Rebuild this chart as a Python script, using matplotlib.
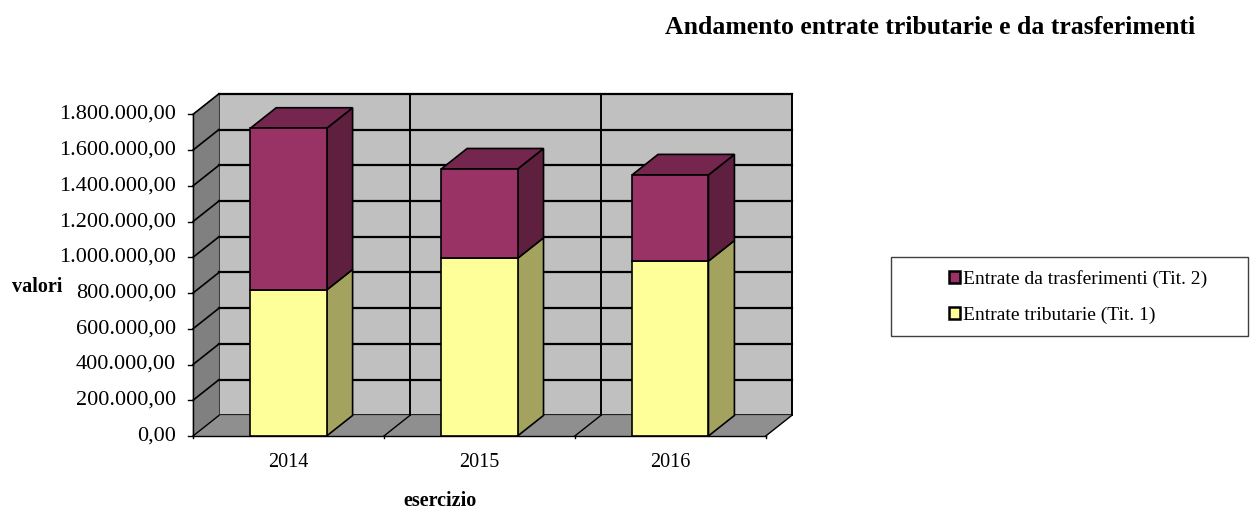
import matplotlib
matplotlib.use("Agg")
import matplotlib.pyplot as plt
from matplotlib.patches import Polygon, Rectangle
from matplotlib.ticker import FuncFormatter

plt.rcParams['font.family'] = ['Liberation Serif', 'DejaVu Serif']

# data
anni = ['2014', '2015', '2016']
tributarie = [817000, 994000, 979000]
trasferimenti = [905000, 500000, 482000]
serie = ['Entrate tributarie (Tit. 1)', 'Entrate da trasferimenti (Tit. 2)']

front_col = ['#FFFF99', '#993366']
side_col = ['#A3A35F', '#5F1F3F']
top_col = ['#B8B86C', '#74264F']

ymax = 1800000
step = 200000
dx = 0.136      # depth offset in category units
dy = 115000     # depth offset in value units
bw = 0.4

fig = plt.figure(figsize=(12.5, 5.12), dpi=100)
ax = fig.add_axes([193/1250, 76/512, (791.7-193)/1250, (436-93.8)/512])
n = len(anni)
ax.set_xlim(0, n + dx)
ax.set_ylim(0, ymax + dy)
ax.axis('off')

# back wall
ax.add_patch(Polygon([(dx, dy), (n+dx, dy), (n+dx, ymax+dy), (dx, ymax+dy)],
                     closed=True, fc='#C0C0C0', ec='black', lw=1.2, zorder=1))
# left wall
ax.add_patch(Polygon([(0, 0), (dx, dy), (dx, ymax+dy), (0, ymax)],
                     closed=True, fc='#808080', ec='#808080', lw=0.5, zorder=1, clip_on=False))
# floor
ax.add_patch(Polygon([(0, 0), (n, 0), (n+dx, dy), (dx, dy)],
                     closed=True, fc='#8F8F8F', ec='#8F8F8F', lw=0.5, zorder=1, clip_on=False))

# gridlines
v = step
while v <= ymax:
    ax.plot([dx, n+dx], [v+dy, v+dy], color='black', lw=1.6, zorder=2, clip_on=False)
    ax.plot([0, dx], [v, v+dy], color='black', lw=1.2, zorder=2, clip_on=False)
    v += step
for k in range(1, n + 1):
    ax.plot([k+dx, k+dx], [dy, ymax+dy], color='black', lw=1.4, zorder=2, clip_on=False)
    ax.plot([k, k+dx], [0, dy], color='black', lw=1.0, zorder=2, clip_on=False)
ax.plot([0, dx], [0, dy], color='black', lw=1.0, zorder=2, clip_on=False)

# axis lines + ticks
ax.plot([0, 0], [0, ymax], color='black', lw=1.0, zorder=3, clip_on=False)
ax.plot([0, n], [0, 0], color='black', lw=1.0, zorder=3, clip_on=False)
fmt = FuncFormatter(lambda x, p: '{:,.2f}'.format(x).replace(',', 'X').replace('.', ',').replace('X', '.'))
v = 0
while v <= ymax:
    ax.plot([-0.025, 0], [v, v], color='black', lw=1.0, clip_on=False)
    ax.text(-0.09, v, fmt(v), ha='right', va='center', fontsize=16)
    v += step
for k in range(n + 1):
    ax.plot([k, k], [0, -12000], color='black', lw=1.0, clip_on=False)
for i, a in enumerate(anni):
    ax.text(i + 0.5, -150000, a, ha='center', va='center', fontsize=14.5)

# stacked 3D bars
for i in range(n):
    x0 = i + 0.5 - bw/2
    x1 = i + 0.5 + bw/2
    base = 0
    for s, vals in enumerate([tributarie, trasferimenti]):
        h = vals[i]
        y0, y1 = base, base + h
        ax.add_patch(Rectangle((x0, y0), bw, h, fc=front_col[s], ec='black', lw=1.2, zorder=5))
        ax.add_patch(Polygon([(x1, y0), (x1+dx, y0+dy), (x1+dx, y1+dy), (x1, y1)],
                             closed=True, fc=side_col[s], ec='black', lw=1.2, zorder=4))
        if s == 1:
            ax.add_patch(Polygon([(x0, y1), (x0+dx, y1+dy), (x1+dx, y1+dy), (x1, y1)],
                                 closed=True, fc=top_col[s], ec='black', lw=1.2, zorder=4))
        base = y1

# labels
fig.text(37/1250, 1 - 287/512, 'valori', ha='center', va='center', fontsize=14.5, fontweight='bold')
fig.text(440/1250, 1 - 501/512, 'esercizio', ha='center', va='center', fontsize=14.5, fontweight='bold')
fig.text(930/1250, 1 - 27/512, 'Andamento entrate tributarie e da trasferimenti',
         ha='center', va='center', fontsize=18.5, fontweight='bold')

# legend: frame drawn separately, entries centred inside
fig.patches.append(Rectangle((891/1250, 1 - 336/512), 357/1250, 79/512,
                             transform=fig.transFigure, fc='white', ec='#404040', lw=1.0))
handles = [Rectangle((0, 0), 1, 1, fc=front_col[1], ec='black', lw=1.8),
           Rectangle((0, 0), 1, 1, fc=front_col[0], ec='black', lw=1.8)]
leg = fig.legend(handles, [serie[1], serie[0]], loc='center',
                 bbox_to_anchor=(1078/1250, 1 - 297/512), fontsize=14,
                 handlelength=0.6, handleheight=0.6, handletextpad=0.15,
                 labelspacing=0.95, frameon=False, borderaxespad=0)
for t in leg.get_texts():
    t.set_ha('left')

fig.savefig('out.png', dpi=100)
